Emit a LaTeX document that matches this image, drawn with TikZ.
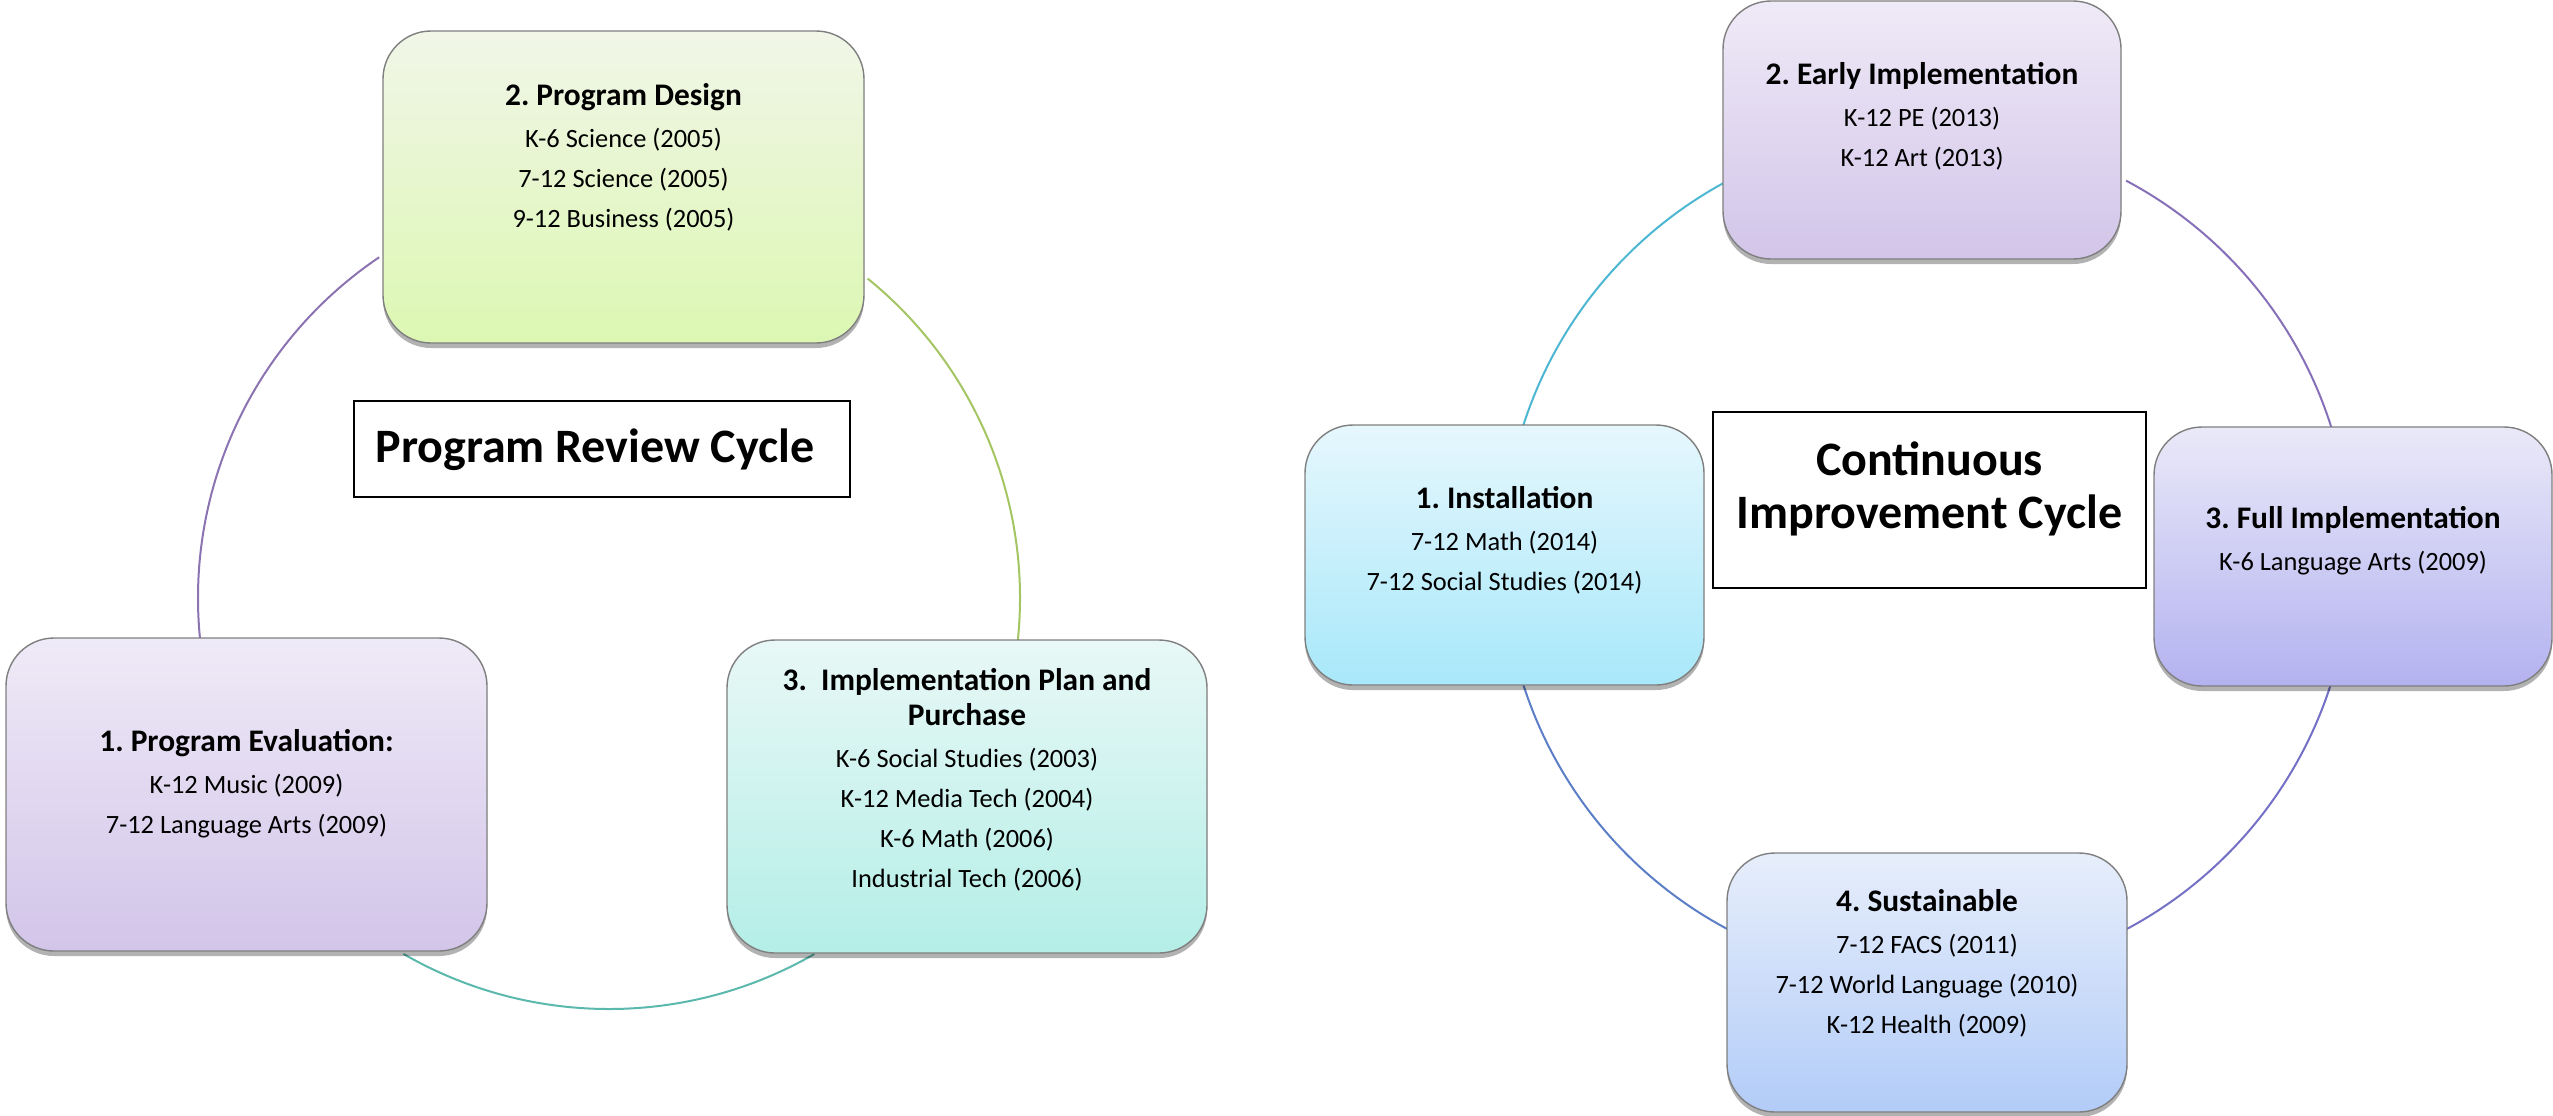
\documentclass[tikz,border=0pt]{standalone}
\usepackage{fontspec}
\setmainfont{Carlito}
\usetikzlibrary{shadows,calc}
\frenchspacing
\definecolor{bordergray}{HTML}{7F7F7F}
\definecolor{arcPurple}{HTML}{8C73B2}
\definecolor{arcGreen}{HTML}{A3C562}
\definecolor{arcTeal}{HTML}{5BB8AC}
\definecolor{arcCyan}{HTML}{4DB6D2}
\definecolor{arcViolet}{HTML}{8670B8}
\definecolor{arcIndigo}{HTML}{7470C6}
\definecolor{arcBlue}{HTML}{5B7EC6}
\definecolor{greenTop}{HTML}{F1F6E8}
\definecolor{greenBot}{HTML}{DCF7B2}
\definecolor{lilacTop}{HTML}{EFEAF7}
\definecolor{lilacBot}{HTML}{D2C5E9}
\definecolor{tealTop}{HTML}{E8F8F6}
\definecolor{tealBot}{HTML}{B4EEE7}
\definecolor{skyTop}{HTML}{E6F7FD}
\definecolor{skyBot}{HTML}{A8E8FA}
\definecolor{periTop}{HTML}{EAE9F8}
\definecolor{periBot}{HTML}{B3B2F0}
\definecolor{blueTop}{HTML}{E7EEFB}
\definecolor{blueBot}{HTML}{B2CCF8}
\begin{document}
\begin{tikzpicture}[x=0.5pt,y=0.5pt,
  stagebox/.style={draw=bordergray, line width=0.7pt, rounded corners=24pt,
    inner sep=0pt,
    drop shadow={shadow xshift=0pt, shadow yshift=-2.5pt, opacity=0.3, fill=black}},
  titlebox/.style={draw=black, line width=0.8pt, fill=white, inner sep=0pt},
  stagetext/.style={inner sep=0pt, align=center, anchor=base,
    font=\fontsize{13.2}{20}\selectfont\frenchspacing},
  cycletitle/.style={inner sep=0pt, align=center, anchor=base,
    font=\fontsize{24}{26.5}\selectfont\bfseries},
  arcline/.style={line width=1pt}
]
\useasboundingbox (0,0) rectangle (2553,-1115);
\newcommand{\hd}[1]{{\bfseries\fontsize{15.7}{17.5}\selectfont\frenchspacing #1}}

% ---------------- Left cycle ----------------
\coordinate (cL) at (609,-598);
\draw[arcline, arcPurple] ($(cL)+(124:411)$) arc[start angle=124, end angle=186, radius=411];
\draw[arcline, arcGreen]  ($(cL)+(51:411)$)  arc[start angle=51, end angle=-6, radius=411];
\draw[arcline, arcTeal]   ($(cL)+(-60:411)$) arc[start angle=-60, end angle=-120, radius=411];

\node[stagebox, top color=greenTop, bottom color=greenBot,
      minimum width=240.5pt, minimum height=156pt] (design) at (623.5,-187) {};
\node[stagetext] (designtxt) at (623.5,-227)
  {\hd{2. Program Design}\\[1pt] K-6 Science (2005)\\ 7-12 Science (2005)\\ 9-12 Business (2005)};

\node[stagebox, top color=lilacTop, bottom color=lilacBot,
      minimum width=240.5pt, minimum height=156.5pt] (evaluation) at (246.5,-794.5) {};
\node[stagetext] (evaluationtxt) at (246.5,-833)
  {\hd{1. Program Evaluation:}\\[1pt] K-12 Music (2009)\\ 7-12 Language Arts (2009)};

\node[stagebox, top color=tealTop, bottom color=tealBot,
      minimum width=240pt, minimum height=156.5pt] (implement) at (967,-796.5) {};
\node[stagetext] (implementtxt) at (967,-887)
  {\hd{3.\ \ Implementation Plan and}\\[-2.5pt] \hd{Purchase}\\[1pt] K-6 Social Studies (2003)\\ K-12 Media Tech (2004)\\ K-6 Math (2006)\\ Industrial Tech (2006)};

\node[titlebox, minimum width=248pt, minimum height=48pt] (reviewbox) at (602,-449) {};
\node[cycletitle] (reviewtxt) at (595,-462) {Program Review Cycle};

% ---------------- Right cycle ----------------
\coordinate (cR) at (1927,-555);
\draw[arcline, arcCyan]   ($(cR)+(118:424)$)  arc[start angle=118, end angle=163, radius=424];
\draw[arcline, arcViolet] ($(cR)+(62:424)$)   arc[start angle=62, end angle=17, radius=424];
\draw[arcline, arcIndigo] ($(cR)+(-17:424)$)  arc[start angle=-17, end angle=-62, radius=424];
\draw[arcline, arcBlue]   ($(cR)+(-118:424)$) arc[start angle=-118, end angle=-163, radius=424];

\node[stagebox, top color=lilacTop, bottom color=lilacBot,
      minimum width=199pt, minimum height=129pt] (early) at (1922,-130) {};
\node[stagetext] (earlytxt) at (1922,-166)
  {\hd{2. Early Implementation}\\[1pt] K-12 PE (2013)\\ K-12 Art (2013)};

\node[stagebox, top color=skyTop, bottom color=skyBot,
      minimum width=199.5pt, minimum height=130pt] (install) at (1504.5,-555) {};
\node[stagetext] (installtxt) at (1504.5,-590)
  {\hd{1. Installation}\\[1pt] 7-12 Math (2014)\\ 7-12 Social Studies (2014)};

\node[stagebox, top color=periTop, bottom color=periBot,
      minimum width=199pt, minimum height=129.5pt] (full) at (2353,-556.5) {};
\node[stagetext] (fulltxt) at (2353,-570)
  {\hd{3. Full Implementation}\\[1pt] K-6 Language Arts (2009)};

\node[stagebox, top color=blueTop, bottom color=blueBot,
      minimum width=200pt, minimum height=129.5pt] (sustain) at (1927,-982.5) {};
\node[stagetext] (sustaintxt) at (1927,-1033)
  {\hd{4. Sustainable}\\[1pt] 7-12 FACS (2011)\\ 7-12 World Language (2010)\\ K-12 Health (2009)};

\node[titlebox, minimum width=216.5pt, minimum height=88pt] (improvebox) at (1929.5,-500) {};
\node[cycletitle] (improvetxt) at (1929.5,-528) {Continuous\\ Improvement Cycle};
\end{tikzpicture}
\end{document}
